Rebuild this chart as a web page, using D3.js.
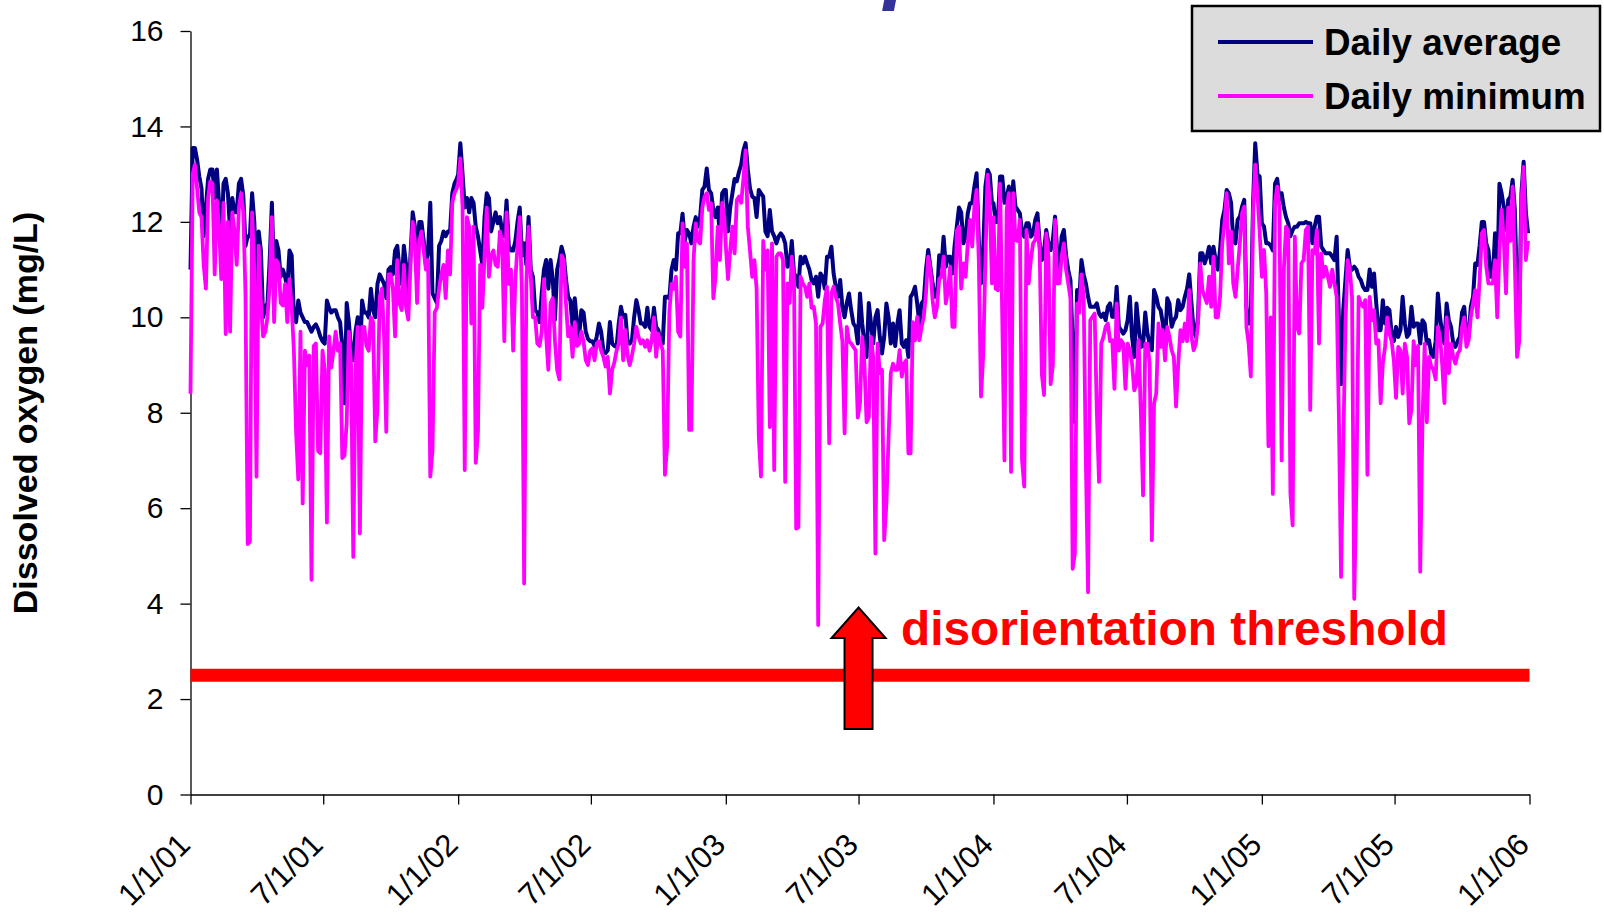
<!DOCTYPE html>
<html>
<head>
<meta charset="utf-8">
<script src="https://cdn.jsdelivr.net/npm/d3@7"></script>
<style>
  body { margin: 0; background: #fff; }
  svg { display: block; }
  text { font-family: "Liberation Sans", Arial, sans-serif; }
</style>
</head>
<body>
<svg id="chart" width="1604" height="915"></svg>
<script>
// --- Data: dissolved oxygen, one value every 3 days from Jan 1 of each year ---
const years = [2001, 2002, 2003, 2004, 2005];
const sampleStepDays = 3;

const avg2001 = [11.0, 13.55, 13.55, 13.3, 12.95, 12.7, 11.7, 12.3, 12.9, 13.1,
  13.1, 12.5, 13.1, 12.4, 11.4, 12.8, 12.9, 12.6, 11.8, 12.5,
  12.2, 12.2, 12.8, 12.9, 12.55, 11.5, 11.7, 11.7, 12.6, 12.0,
  10.7, 11.8, 11.4, 10.0, 10.2, 10.3, 11.2, 12.4, 10.8, 11.6,
  11.4, 10.85, 11.0, 10.85, 10.6, 11.4, 11.3, 10.0, 9.9, 10.35,
  10.1, 10.0, 9.9, 9.9, 9.8, 9.7, 9.8, 9.85, 9.75, 9.6,
  9.5, 9.45, 10.35, 10.2, 10.1, 10.15, 10.15, 10.0, 9.9, 9.4,
  8.2, 10.3, 9.9, 9.3, 9.1, 9.7, 10.0, 9.1, 10.35, 10.1,
  10.1, 10.0, 10.6, 10.15, 10.0, 10.7, 10.9, 10.8, 10.7, 10.4,
  11.0, 11.05, 10.9, 11.4, 11.5, 11.0, 10.7, 11.5, 11.1, 10.4,
  11.3, 12.2, 11.9, 11.2, 12.0, 12.0, 11.6, 11.1, 11.4, 12.4,
  10.5, 10.4, 10.3, 11.5, 11.6, 11.8, 11.7, 11.8, 11.8, 12.6,
  12.8, 12.9];
const min2001 = [8.4, 13.0, 13.2, 12.7, 12.2, 12.1, 11.1, 10.6, 12.5, 12.85,
  12.8, 10.9, 12.45, 11.9, 10.8, 12.4, 9.65, 12.0, 9.7, 12.2,
  11.8, 11.1, 12.3, 12.6, 12.2, 10.5, 5.25, 5.3, 12.2, 11.0,
  6.66, 11.5, 10.3, 9.6, 9.7, 10.0, 10.7, 12.1, 9.9, 11.2,
  11.1, 10.3, 10.25, 10.7, 9.9, 10.8, 10.2, 9.3, 7.6, 6.6,
  9.7, 6.1, 9.3, 9.0, 9.2, 4.5, 9.4, 9.45, 7.2, 7.15,
  9.3, 8.9, 5.7, 9.6, 8.95, 9.3, 9.7, 9.3, 9.45, 7.05,
  7.1, 7.8, 9.7, 9.0, 4.98, 8.9, 9.8, 5.47, 9.8, 9.8,
  9.4, 9.3, 10.0, 9.9, 7.4, 8.1, 10.4, 10.6, 9.6, 7.6,
  10.9, 10.9, 10.6, 9.6, 11.2, 10.3, 10.15, 11.1, 10.2, 9.95,
  11.1, 12.0, 11.6, 10.3, 11.6, 11.8, 11.4, 11.0, 11.2, 6.66,
  7.2, 10.1, 10.2, 10.6, 10.9, 11.1, 10.4, 11.4, 10.9, 12.4,
  12.6, 12.7];

const avg2002 = [12.99, 13.65, 13.0, 12.3, 12.5, 12.2, 12.5, 12.4, 11.9, 11.7,
  11.4, 11.1, 12.1, 12.6, 12.5, 11.8, 12.0, 12.2, 11.97, 12.1,
  11.8, 11.7, 12.45, 11.5, 11.4, 11.4, 11.6, 12.0, 12.3, 11.3,
  11.55, 11.1, 12.1, 11.0, 10.85, 10.15, 10.1, 9.9, 10.5, 11.0,
  11.2, 10.6, 11.2, 10.8, 9.95, 11.0, 11.2, 11.48, 11.3, 10.8,
  10.43, 10.35, 9.8, 10.4, 9.9, 9.6, 10.15, 10.1, 9.7, 9.55,
  9.5, 9.5, 9.4, 9.6, 9.87, 9.7, 9.31, 9.25, 9.31, 9.9,
  9.45, 9.4, 9.38, 9.87, 10.22, 10.0, 10.05, 9.5, 9.45, 9.52,
  10.0, 10.36, 10.15, 9.87, 9.87, 9.8, 10.2, 9.8, 9.73, 10.2,
  9.8, 9.73, 9.52, 9.45, 10.43, 10.43, 10.4, 11.0, 11.2, 11.0,
  11.76, 11.76, 12.17, 11.6, 11.83, 11.76, 11.55, 11.9, 12.1, 11.9,
  12.1, 12.67, 12.74, 13.12, 12.67, 12.6, 12.25, 12.1, 12.3, 11.7,
  12.6, 12.67];
const min2002 = [12.8, 13.33, 12.3, 6.8, 12.1, 11.9, 9.87, 11.9, 6.95, 7.6,
  11.1, 10.2, 11.3, 12.3, 10.85, 11.3, 11.4, 11.1, 11.06, 11.8,
  11.6, 9.5, 12.2, 10.7, 11.0, 9.3, 10.8, 11.5, 12.1, 10.5,
  4.42, 10.7, 11.9, 10.85, 10.0, 10.0, 9.45, 9.4, 9.7, 10.8,
  9.6, 8.9, 10.3, 10.4, 9.5, 8.9, 8.7, 11.3, 11.2, 10.3,
  9.6, 9.8, 9.17, 9.9, 9.4, 9.45, 9.7, 9.5, 9.1, 9.0,
  9.3, 9.35, 9.1, 9.45, 9.5, 9.3, 9.17, 8.97, 9.17, 8.4,
  8.9, 9.05, 9.3, 9.45, 10.0, 9.1, 9.73, 9.2, 9.0, 9.2,
  9.45, 9.8, 9.59, 9.45, 9.52, 9.38, 9.52, 9.3, 9.52, 10.0,
  9.17, 9.66, 9.45, 9.31, 6.7, 7.3, 10.1, 10.7, 10.6, 10.85,
  9.7, 9.6, 11.97, 11.06, 11.55, 7.64, 7.64, 11.2, 11.97, 11.6,
  11.55, 12.3, 12.53, 12.6, 12.25, 12.39, 10.4, 10.85, 11.9, 11.2,
  12.4, 12.1];

const avg2003 = [12.67, 11.8, 12.3, 12.6, 12.9, 12.85, 13.05, 13.2, 13.5, 13.65,
  13.1, 12.7, 12.53, 12.5, 12.1, 12.67, 12.6, 12.53, 11.8, 11.7,
  12.25, 11.8, 11.7, 11.55, 11.69, 11.76, 11.69, 11.55, 11.06, 11.1,
  11.6, 10.92, 10.85, 10.64, 11.27, 11.13, 11.27, 11.13, 11.0, 10.78,
  10.71, 10.85, 10.43, 10.92, 10.85, 10.6, 11.27, 11.27, 11.48, 10.92,
  10.64, 10.43, 10.78, 10.2, 10.0, 10.3, 10.5, 10.15, 9.87, 9.8,
  9.45, 10.5, 9.87, 9.45, 9.17, 10.3, 9.87, 9.45, 10.0, 10.15,
  9.59, 9.24, 9.59, 10.29, 10.0, 9.45, 9.87, 9.4, 9.87, 10.15,
  9.45, 9.38, 9.52, 9.17, 10.43, 10.5, 10.64, 10.29, 9.87, 10.29,
  10.36, 11.0, 11.41, 11.06, 10.71, 10.43, 10.43, 11.3, 11.06, 11.69,
  11.06, 11.27, 11.27, 10.92, 11.5, 11.9, 12.3, 12.2, 11.55, 11.69,
  12.18, 12.39, 12.39, 12.74, 13.02, 11.6, 10.71, 11.41, 12.74, 13.09,
  12.99, 12.39];
const min2003 = [11.5, 10.8, 11.4, 11.9, 11.34, 12.46, 12.53, 12.4, 12.9, 13.5,
  11.9, 11.4, 10.85, 11.2, 10.6, 7.5, 6.66, 11.6, 11.0, 11.4,
  7.7, 11.55, 6.8, 11.27, 11.34, 11.34, 11.2, 6.55, 10.71, 10.3,
  11.27, 10.78, 5.57, 5.6, 10.85, 10.71, 10.64, 10.43, 10.71, 10.2,
  10.22, 9.87, 3.55, 9.8, 9.87, 10.35, 10.64, 7.36, 10.5, 10.64,
  10.43, 10.29, 9.87, 9.5, 7.57, 9.8, 9.5, 9.45, 9.38, 9.31,
  7.9, 8.2, 9.59, 9.03, 7.8, 7.9, 9.59, 9.17, 5.05, 9.45,
  8.83, 8.9, 5.33, 6.1, 7.5, 8.83, 9.03, 8.9, 8.9, 9.31,
  8.76, 9.03, 9.1, 7.15, 7.15, 9.9, 9.52, 10.01, 9.52, 9.8,
  10.01, 10.5, 11.27, 10.99, 10.36, 10.0, 10.22, 10.8, 10.85, 11.27,
  10.29, 10.57, 11.06, 9.8, 9.8, 11.8, 11.9, 10.6, 11.13, 10.85,
  11.55, 12.04, 11.48, 12.32, 12.67, 11.2, 8.34, 9.2, 11.2, 12.99,
  12.4, 10.71];

const avg2004 = [12.39, 12.0, 12.0, 12.95, 12.95, 12.4, 12.5, 12.74, 12.0, 12.85,
  12.32, 12.25, 12.18, 11.8, 11.69, 11.97, 11.97, 11.69, 11.76, 12.04,
  12.18, 11.55, 11.2, 11.4, 11.83, 11.55, 11.41, 11.62, 12.11, 11.34,
  11.0, 11.69, 11.83, 11.3, 10.99, 10.78, 9.45, 7.8, 10.57, 10.36,
  11.2, 10.9, 10.71, 10.43, 10.22, 10.22, 10.22, 10.29, 10.08, 10.01,
  10.08, 9.94, 10.22, 10.29, 10.01, 10.01, 10.64, 9.8, 9.73, 9.66,
  9.73, 9.94, 10.43, 9.59, 9.17, 10.29, 9.8, 9.38, 9.4, 10.1,
  9.66, 9.45, 9.31, 10.57, 10.43, 10.22, 10.15, 9.87, 9.45, 10.4,
  10.29, 9.8, 9.94, 10.01, 10.36, 10.15, 10.22, 10.43, 10.6, 10.9,
  10.3, 9.73, 9.59, 10.01, 11.34, 11.34, 11.13, 11.27, 11.48, 11.13,
  11.48, 11.2, 11.0, 11.41, 12.04, 12.25, 12.67, 12.6, 12.4, 11.6,
  11.55, 12.04, 12.11, 12.32, 12.46, 10.22, 9.87, 10.01, 12.39, 13.65,
  13.0, 12.95];
const min2004 = [12.1, 10.6, 10.57, 12.8, 10.0, 7.0, 12.25, 12.6, 6.76, 12.6,
  11.62, 11.6, 12.04, 7.0, 6.45, 11.83, 10.71, 11.2, 11.55, 11.62,
  11.97, 11.4, 8.8, 8.37, 11.76, 11.27, 8.6, 9.0, 12.04, 10.71,
  10.71, 11.27, 11.55, 11.0, 10.71, 10.4, 4.73, 5.05, 10.29, 10.1,
  10.9, 10.43, 7.0, 4.24, 9.94, 10.01, 10.08, 8.0, 6.55, 9.45,
  9.59, 9.8, 9.87, 9.5, 9.52, 8.5, 10.29, 9.3, 9.52, 9.45,
  8.5, 9.45, 9.31, 9.03, 8.47, 8.6, 9.52, 8.0, 6.27, 9.45,
  9.45, 9.03, 5.33, 8.2, 8.4, 9.87, 9.38, 9.73, 9.1, 9.8,
  9.59, 9.31, 9.17, 8.13, 9.03, 9.73, 9.5, 9.87, 9.5, 10.57,
  9.6, 9.31, 9.45, 9.87, 11.13, 10.57, 10.43, 10.3, 10.85, 10.22,
  11.27, 10.0, 10.0, 10.43, 11.55, 11.97, 12.6, 11.13, 11.8, 10.71,
  10.43, 11.0, 11.55, 12.18, 12.32, 9.8, 9.45, 8.76, 12.2, 13.2,
  12.6, 11.8];

const avg2005 = [11.97, 11.9, 11.55, 11.55, 11.5, 11.4, 12.8, 12.9, 12.46, 12.6,
  12.3, 12.1, 11.97, 11.7, 11.83, 11.9, 11.9, 11.97, 11.97, 11.97,
  12.0, 11.97, 11.97, 11.55, 11.9, 12.11, 12.11, 11.48, 11.41, 11.34,
  11.34, 11.34, 11.27, 11.2, 11.69, 10.0, 8.6, 10.15, 10.78, 11.41,
  11.06, 11.0, 11.06, 11.0, 10.85, 10.78, 10.64, 10.57, 10.57, 11.0,
  10.64, 10.92, 10.29, 9.73, 9.73, 10.36, 9.87, 10.2, 10.15, 9.66,
  9.5, 9.8, 9.59, 9.73, 10.43, 9.87, 9.59, 9.66, 10.22, 9.8,
  9.87, 9.87, 9.45, 9.94, 9.87, 9.45, 9.52, 9.24, 9.17, 9.5,
  10.5, 10.0, 9.66, 9.45, 10.29, 9.94, 9.8, 9.45, 9.38, 9.5,
  9.59, 10.1, 10.22, 9.59, 9.59, 10.22, 10.43, 11.13, 11.1, 11.5,
  12.0, 12.0, 11.55, 11.41, 10.85, 10.85, 11.76, 10.71, 12.8, 12.6,
  12.3, 11.83, 12.46, 12.53, 12.88, 12.25, 10.57, 10.0, 12.6, 13.26,
  12.2, 11.76];
const min2005 = [10.85, 11.41, 10.5, 7.3, 10.0, 6.3, 12.4, 12.74, 12.3, 7.0,
  11.0, 11.9, 11.8, 6.3, 5.64, 11.69, 9.8, 9.66, 11.13, 11.2,
  11.83, 11.9, 8.06, 11.41, 11.34, 11.83, 9.45, 11.34, 10.85, 11.06,
  10.85, 10.64, 11.0, 10.71, 10.43, 8.0, 4.56, 7.3, 9.87, 11.2,
  11.0, 10.43, 4.1, 6.5, 10.43, 10.29, 10.22, 10.36, 6.7, 10.43,
  9.94, 10.15, 9.45, 9.52, 8.2, 9.03, 9.38, 10.0, 9.66, 9.5,
  9.1, 8.31, 9.38, 9.31, 8.4, 9.45, 9.17, 7.78, 8.06, 9.5,
  9.0, 9.4, 4.67, 7.78, 9.45, 7.8, 9.17, 8.97, 8.9, 8.7,
  9.8, 9.59, 9.0, 8.2, 10.0, 8.83, 9.45, 9.17, 9.03, 9.24,
  9.31, 9.8, 10.0, 9.38, 9.52, 10.01, 10.29, 10.57, 10.0, 10.8,
  11.76, 11.83, 11.06, 10.71, 10.71, 10.71, 11.2, 10.0, 11.41, 12.25,
  11.6, 10.5, 12.3, 11.6, 12.74, 11.13, 9.17, 9.5, 12.4, 13.15,
  11.2, 11.6];

const seriesNames = ['Daily average', 'Daily minimum'];
const seriesColors = ['#000080', '#FF00FF'];
const yTicks = [0, 2, 4, 6, 8, 10, 12, 14, 16];
const xTickLabels = ['1/1/01', '7/1/01', '1/1/02', '7/1/02', '1/1/03', '7/1/03',
  '1/1/04', '7/1/04', '1/1/05', '7/1/05', '1/1/06'];
const thresholdValue = 2.5;
const thresholdLabel = 'disorientation threshold';
const yAxisTitle = 'Dissolved oxygen (mg/L)';

// --- Build the series ---
function toPoints(yearArrays) {
  return yearArrays.flatMap((vals, k) =>
    vals.map((v, i) => ({
      date: d3.timeDay.offset(new Date(years[k], 0, 1), i * sampleStepDays),
      value: v
    }))
  );
}
const series = [
  toPoints([avg2001, avg2002, avg2003, avg2004, avg2005]),
  toPoints([min2001, min2002, min2003, min2004, min2005])
];

const parseTick = d3.timeParse('%m/%d/%y');
const formatTick = d3.timeFormat('%-m/%-d/%y');
const xTickDates = xTickLabels.map(parseTick);

// --- Scales ---
const x = d3.scaleTime()
  .domain([xTickDates[0], xTickDates[xTickDates.length - 1]])
  .range([190.5, 1529.5]);
const y = d3.scaleLinear().domain([0, 16]).range([794.5, 31]);

const svg = d3.select('#chart');

// title text cut by the top edge (only the descender shows)
svg.append('text')
  .attr('x', 884).attr('y', -7)
  .attr('fill', '#333399')
  .style('font-size', '86px').style('font-weight', 'bold').style('font-style', 'italic')
  .text('p');

// --- Axes ---
const yAxis = svg.append('g')
  .attr('transform', `translate(${x.range()[0]},0)`)
  .call(d3.axisLeft(y).tickValues(yTicks).tickSize(10).tickSizeOuter(0).tickPadding(17));
yAxis.selectAll('text').style('font-size', '30px').attr('fill', '#000');

const xAxis = svg.append('g')
  .attr('transform', `translate(0,${y(0)})`)
  .call(d3.axisBottom(x).tickValues(xTickDates).tickFormat(formatTick).tickSize(10).tickSizeOuter(0));
xAxis.selectAll('text')
  .style('font-size', '31px').attr('fill', '#000')
  .attr('x', 0).attr('y', 0).attr('dy', 0)
  .attr('text-anchor', 'end')
  .attr('transform', 'translate(1,52) rotate(-45)');

svg.selectAll('.domain, .tick line').attr('stroke', '#000').attr('stroke-width', 1.3);

svg.append('text')
  .attr('transform', 'translate(37,413) rotate(-90)')
  .attr('text-anchor', 'middle')
  .style('font-size', '34px').style('font-weight', 'bold')
  .text(yAxisTitle);

// --- Lines ---
const line = d3.line().x(d => x(d.date)).y(d => y(d.value));
svg.append('g').selectAll('path')
  .data(series)
  .join('path')
  .attr('d', line)
  .attr('fill', 'none')
  .attr('stroke', (d, i) => seriesColors[i])
  .attr('stroke-width', (d, i) => i === 0 ? 4 : 3.8)
  .attr('stroke-linejoin', 'round');

// --- Threshold ---
svg.append('line')
  .attr('x1', x.range()[0]).attr('x2', x.range()[1])
  .attr('y1', y(thresholdValue)).attr('y2', y(thresholdValue))
  .attr('stroke', '#FF0000').attr('stroke-width', 13);

// arrow pointing up at the threshold, centred on 7/1/03
const ax = x(parseTick('07/01/03'));
const arrowPts = [[0, 607.5], [27, 638], [14, 638], [14, 729], [-14, 729], [-14, 638], [-27, 638]];
svg.append('polygon')
  .attr('points', arrowPts.map(p => [ax + p[0], p[1]].join(',')).join(' '))
  .attr('fill', '#FF0000').attr('stroke', '#000').attr('stroke-width', 2);

svg.append('text')
  .attr('x', 901).attr('y', 645)
  .attr('fill', '#FF0000')
  .style('font-size', '47.8px').style('font-weight', 'bold')
  .text(thresholdLabel);

// --- Legend ---
const legend = svg.append('g');
legend.append('rect')
  .attr('x', 1192).attr('y', 6).attr('width', 408).attr('height', 125)
  .attr('fill', '#DCDCDC').attr('stroke', '#000').attr('stroke-width', 2.5);
const items = legend.selectAll('g.item').data(seriesNames).join('g')
  .attr('transform', (d, i) => `translate(0,${i * 54})`);
items.append('line')
  .attr('x1', 1218).attr('x2', 1313).attr('y1', 42).attr('y2', 42)
  .attr('stroke', (d, i) => seriesColors[i]).attr('stroke-width', 4);
items.append('text')
  .attr('x', 1324).attr('y', 55)
  .style('font-size', '36.8px').style('font-weight', 'bold')
  .text(d => d);
</script>
</body>
</html>
